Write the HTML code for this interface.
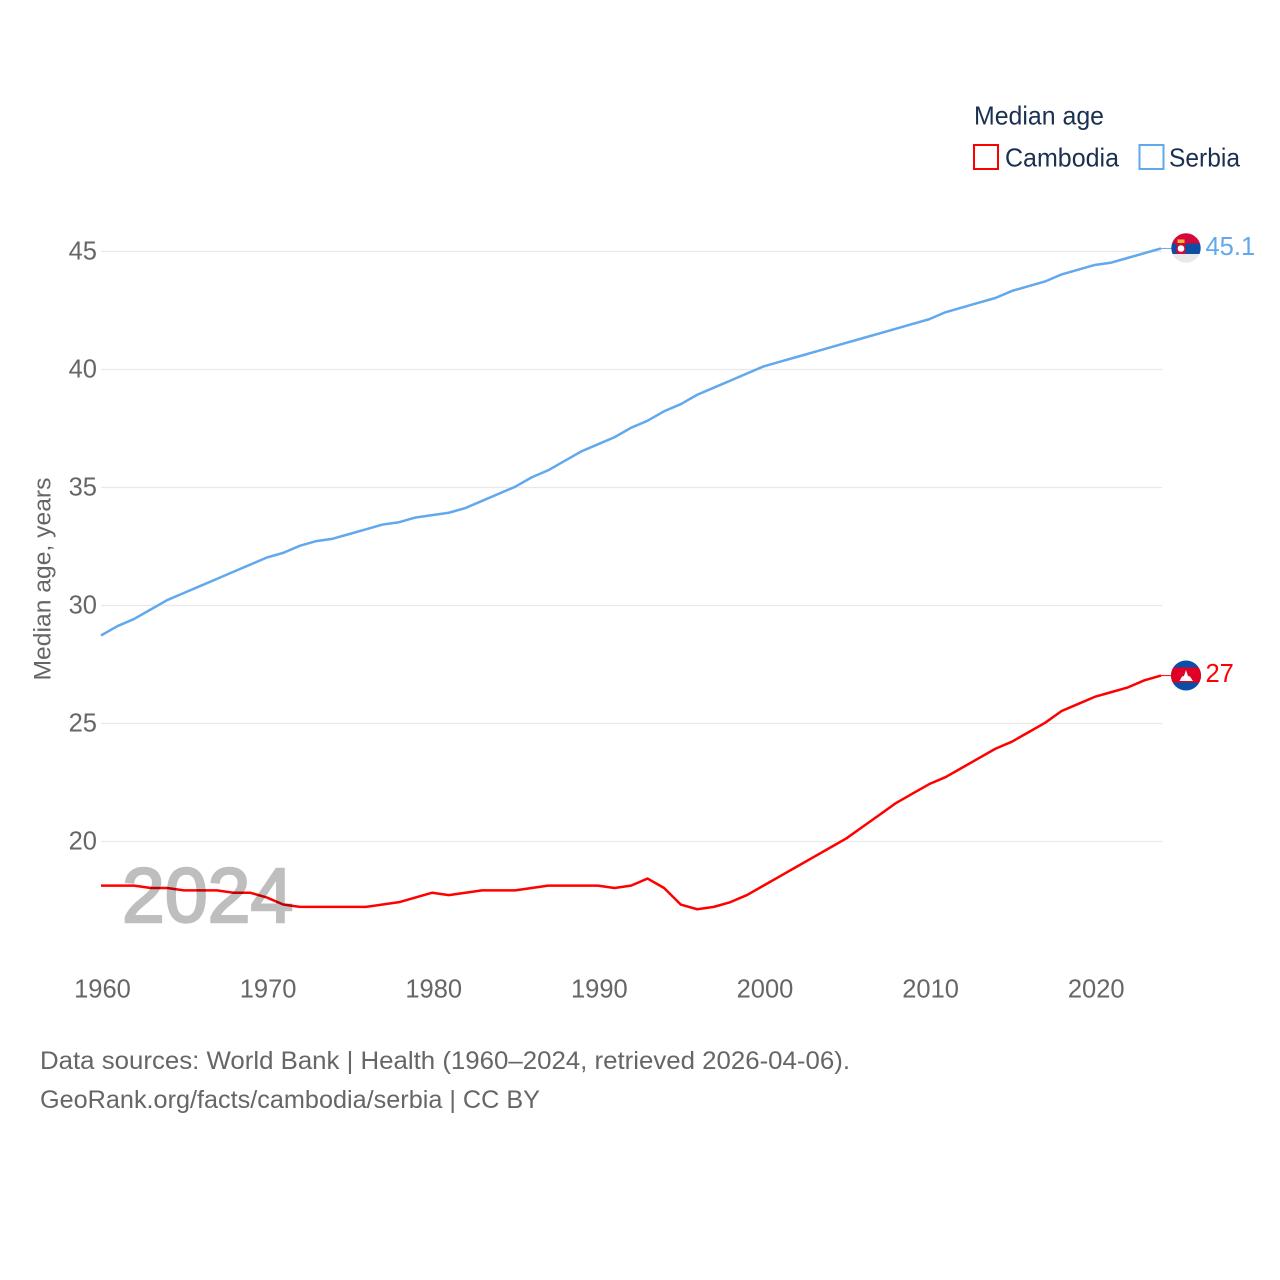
<!DOCTYPE html>
<html lang="en">
<head>
<meta charset="utf-8">
<title>Median age: Cambodia and Serbia</title>
<style>
html,body{margin:0;padding:0;background:#fff;width:1280px;height:1280px;overflow:hidden}
svg{display:block}
text{font-family:"Liberation Sans",sans-serif}
</style>
</head>
<body>
<svg id="chart" width="1280" height="1280" viewBox="0 0 1280 1280" xmlns="http://www.w3.org/2000/svg">
  <defs>
    <clipPath id="flag-clip-serbia"><circle cx="1186" cy="248" r="14.7"/></clipPath>
    <clipPath id="flag-clip-cambodia"><circle cx="1186" cy="675.5" r="15"/></clipPath>
  </defs>
  <g id="grid"></g>
  <g id="y-ticks"></g>
  <g id="x-ticks"></g>
  <text transform="translate(50.5,579) rotate(-90)" text-anchor="middle" font-size="24.5" fill="#666" textLength="203" lengthAdjust="spacingAndGlyphs">Median age, years</text>
  <g id="series"></g>
  <text x="122" y="922" font-size="77" fill="#000" stroke="#000" stroke-width="2.4" opacity="0.25">2024</text>

  <g>
    <text x="974" y="124.5" font-size="26" fill="#1a3050" textLength="130" lengthAdjust="spacingAndGlyphs">Median age</text>
    <g>
      <rect x="974" y="145" width="24" height="24" fill="#fff" stroke="#ff0000" stroke-width="2"/>
      <text x="1005" y="166.5" font-size="26" fill="#1a3050" textLength="114" lengthAdjust="spacingAndGlyphs">Cambodia</text>
    </g>
    <g>
      <rect x="1139.5" y="145" width="24" height="24" fill="#fff" stroke="#62a8ec" stroke-width="2"/>
      <text x="1169" y="166.5" font-size="26" fill="#1a3050" textLength="71" lengthAdjust="spacingAndGlyphs">Serbia</text>
    </g>
  </g>

  <g clip-path="url(#flag-clip-serbia)">
    <rect x="1170" y="232" width="34" height="11.5" fill="#d6083b"/>
    <rect x="1170" y="243.5" width="34" height="10.5" fill="#0b4ea2"/>
    <rect x="1170" y="254" width="34" height="10" fill="#e8e8e8"/>
    <rect x="1176.5" y="243" width="9" height="11" rx="2" fill="#d6083b"/>
    <rect x="1177.5" y="239.5" width="7" height="3.5" fill="#edb92e"/>
    <circle cx="1181" cy="248.5" r="3.3" fill="#fff"/>
  </g>
  <g clip-path="url(#flag-clip-cambodia)">
    <rect x="1170" y="660" width="34" height="32" fill="#0a4ea8"/>
    <rect x="1170" y="667.5" width="34" height="15" fill="#e00025"/>
    <polygon points="1179.5,681 1182,676.5 1184,676 1186,670 1188,676 1190,676.5 1193,681" fill="#fff"/>
  </g>

  <g id="end-labels"></g>

  <g>
    <text x="40" y="1069" font-size="25" fill="#666" textLength="810" lengthAdjust="spacingAndGlyphs">Data sources: World Bank | Health (1960–2024, retrieved 2026-04-06).</text>
    <text x="40" y="1108" font-size="25" fill="#666" textLength="500" lengthAdjust="spacingAndGlyphs">GeoRank.org/facts/cambodia/serbia | CC BY</text>
  </g>
</svg>
<script>
var firstYear = 1960;
var lastYear = 2024;
var yTicks = [20, 25, 30, 35, 40, 45];
var xTicks = [1960, 1970, 1980, 1990, 2000, 2010, 2020];
var serbiaValues = [28.7,29.1,29.4,29.8,30.2,30.5,30.8,31.1,31.4,31.7,32.0,32.2,32.5,32.7,32.8,33.0,33.2,33.4,33.5,33.7,33.8,33.9,34.1,34.4,34.7,35.0,35.4,35.7,36.1,36.5,36.8,37.1,37.5,37.8,38.2,38.5,38.9,39.2,39.5,39.8,40.1,40.3,40.5,40.7,40.9,41.1,41.3,41.5,41.7,41.9,42.1,42.4,42.6,42.8,43.0,43.3,43.5,43.7,44.0,44.2,44.4,44.5,44.7,44.9,45.1];
var cambodiaValues = [18.1,18.1,18.1,18.0,18.0,17.9,17.9,17.9,17.8,17.8,17.6,17.3,17.2,17.2,17.2,17.2,17.2,17.3,17.4,17.6,17.8,17.7,17.8,17.9,17.9,17.9,18.0,18.1,18.1,18.1,18.1,18.0,18.1,18.4,18.0,17.3,17.1,17.2,17.4,17.7,18.1,18.5,18.9,19.3,19.7,20.1,20.6,21.1,21.6,22.0,22.4,22.7,23.1,23.5,23.9,24.2,24.6,25.0,25.5,25.8,26.1,26.3,26.5,26.8,27.0];
var serbiaEndLabel = "45.1";
var cambodiaEndLabel = "27";

var NS = "http://www.w3.org/2000/svg";
function xScale(year) { return 101 + (year - firstYear) * (1161 - 101) / (lastYear - firstYear); }
function yScale(value) { return 841.5 - (value - 20) * 23.6; }
function make(tag, attrs, parent, txt) {
  var el = document.createElementNS(NS, tag);
  for (var k in attrs) { el.setAttribute(k, attrs[k]); }
  if (txt !== undefined) { el.textContent = txt; }
  parent.appendChild(el);
  return el;
}

var gridGroup = document.getElementById("grid");
var yTickGroup = document.getElementById("y-ticks");
var xTickGroup = document.getElementById("x-ticks");
var seriesGroup = document.getElementById("series");
var endGroup = document.getElementById("end-labels");

yTicks.forEach(function (v) {
  var line = make("line", {x1: 101, x2: 1162, y1: yScale(v), y2: yScale(v), stroke: "#e9e9e9", "stroke-width": 1.2}, gridGroup);
  
  
  var label = make("text", {x: 97, y: yScale(v) + 8, "text-anchor": "end", "font-size": 25.5, fill: "#666"}, yTickGroup, String(v));
  
  
});

xTicks.forEach(function (y) {
  var label = make("text", {x: xScale(y) + 1.5, y: 997.5, "text-anchor": "middle", "font-size": 25.5, fill: "#666"}, xTickGroup, String(y));
  
  
});

function drawSeries(values, color, labelY, endText) {
  var pts = values.map(function (v, i) { return xScale(firstYear + i).toFixed(2) + "," + (yScale(v) - 0.7).toFixed(2); });
  var line = make("polyline", {points: pts.join(" "), fill: "none", stroke: color, "stroke-width": 2.5, "stroke-linejoin": "round"}, seriesGroup);
  
  
  var endY = yScale(values[values.length - 1]) - 0.7;
  var connector = make("line", {x1: xScale(lastYear), x2: 1172, y1: endY, y2: endY, stroke: color, "stroke-width": 1}, seriesGroup);
  
  
  var label = make("text", {x: 1205.5, y: labelY, "font-size": 25.5, fill: color}, endGroup, endText);
  
  
}

drawSeries(cambodiaValues, "#ff0000", 682, cambodiaEndLabel);
drawSeries(serbiaValues, "#62a8ec", 255, serbiaEndLabel);
</script>
</body>
</html>
